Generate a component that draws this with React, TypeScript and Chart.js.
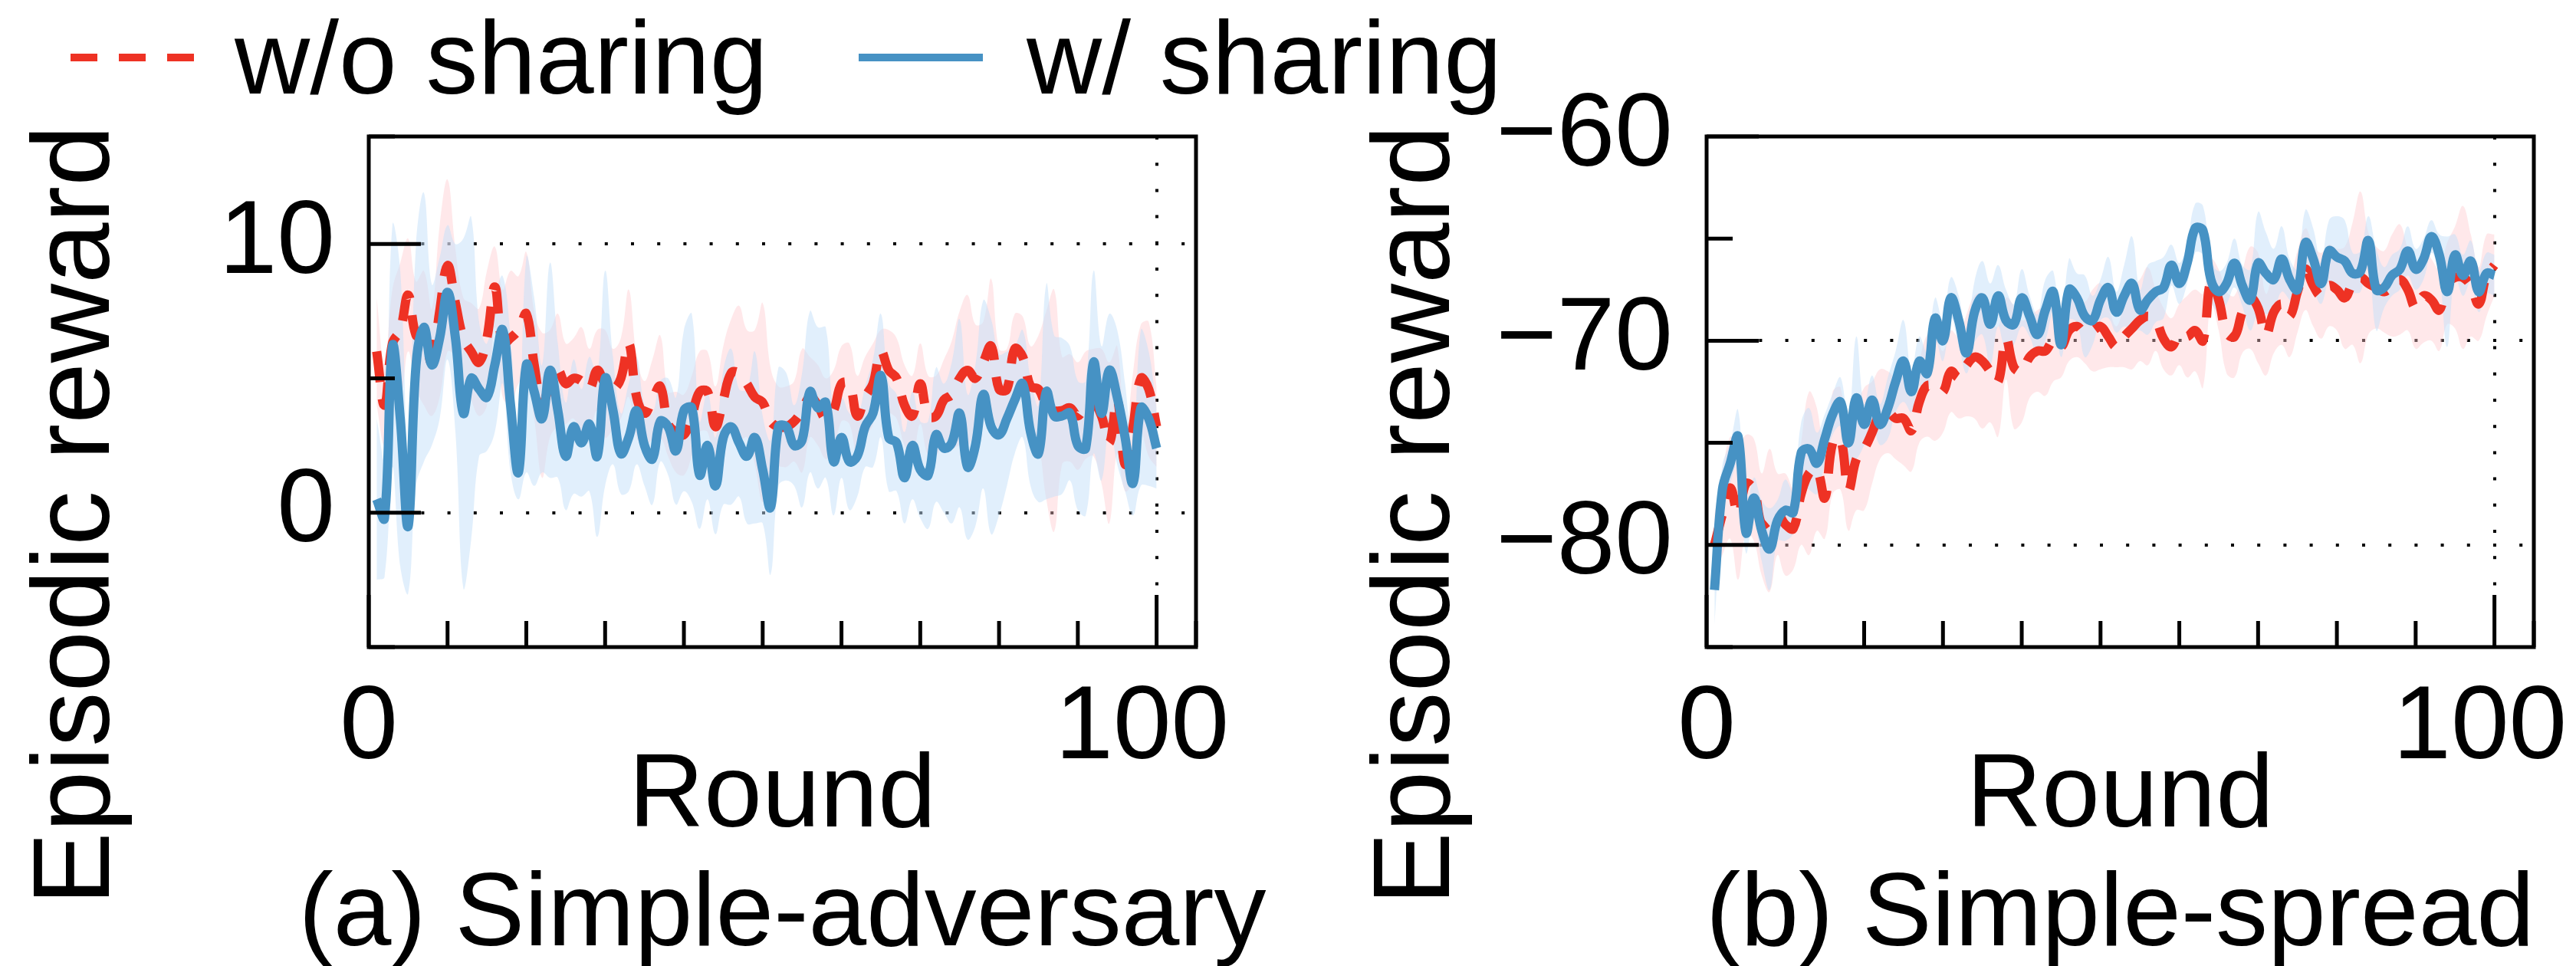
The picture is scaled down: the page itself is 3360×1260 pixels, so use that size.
import React, { useEffect, useRef } from 'react';
import { Chart, registerables } from 'chart.js';

Chart.register(...registerables);

// ---------- canvas / typography ----------
const W = 3360;
const H = 1260;
const FONT_FAMILY = '"Liberation Sans", Arial, Helvetica, sans-serif';
const FS = 136;
const FS_YTITLE = 143;

const RED = '#EE3224';
const BLUE = '#4692C4';
const RED_FILL = 'rgba(255, 200, 206, 0.42)';
const BLUE_FILL = 'rgba(196, 223, 250, 0.5)';

// ---------- data ----------
const rounds = Array.from({ length: 100 }, (_, i) => i + 1);

// (a) Simple-adversary
const advRed = [
  6.0, 4.0, 6.3, 6.8, 8.1, 6.6, 6.5, 5.6, 7.5, 9.2,
  7.8, 6.5, 6.0, 5.6, 6.5, 8.4, 6.3, 6.5, 6.8, 7.4,
  5.5, 4.0, 4.8, 5.3, 4.8, 5.0, 4.9, 4.6, 5.3, 4.8,
  4.6, 5.0, 6.3, 4.3, 3.7, 4.2, 4.7, 3.3, 3.0, 2.9,
  3.6, 4.5, 4.5, 3.2, 4.2, 5.2, 5.2, 4.8, 4.3, 4.1,
  3.4, 3.2, 3.2, 3.4, 3.8, 4.3, 4.0, 3.5, 3.8, 4.8,
  4.8, 3.6, 4.3, 4.8, 6.0, 5.3, 5.0, 4.0, 3.6, 4.8,
  3.6, 3.6, 4.2, 4.4, 5.0, 5.3, 5.0, 5.6, 6.2, 4.6,
  4.6, 6.1, 5.8, 4.7, 4.6, 4.0, 3.8, 3.8, 3.9, 3.6,
  4.0, 4.1, 3.6, 2.6, 4.2, 1.8, 3.2, 5.0, 4.6, 3.2,
];
const advRedStd = [
  2.0, 1.5, 2.0, 2.5, 2.1, 2.0, 2.5, 2.0, 3.2, 3.2,
  2.0, 1.5, 1.8, 2.0, 2.5, 1.5, 2.0, 2.5, 2.0, 2.3,
  2.0, 2.7, 2.0, 2.1, 1.5, 1.5, 2.0, 1.5, 1.5, 2.0,
  1.5, 1.5, 2.0, 1.5, 1.2, 1.5, 1.9, 1.2, 1.5, 1.5,
  1.5, 1.5, 1.5, 1.5, 2.0, 2.0, 2.5, 2.0, 2.5, 3.7,
  2.0, 1.5, 1.5, 1.5, 2.3, 1.5, 1.5, 1.5, 1.5, 1.4,
  1.5, 1.5, 1.5, 1.5, 0.8, 1.5, 1.5, 1.5, 1.5, 1.5,
  1.5, 1.5, 1.5, 2.0, 2.5, 2.8, 2.0, 1.5, 2.5, 1.5,
  1.5, 1.3, 1.5, 1.5, 2.0, 3.5, 4.5, 2.0, 2.0, 2.0,
  2.0, 2.0, 2.5, 3.0, 2.0, 1.0, 2.0, 2.0, 2.5, 1.5,
];
const advBlue = [
  0.5, -0.2, 6.2, 3.5, -0.5, 5.5, 6.9, 5.5, 6.5, 8.2,
  6.5, 3.7, 5.0, 4.6, 4.3, 5.5, 6.8, 4.0, 1.5, 5.5,
  4.5, 3.5, 5.3, 3.8, 2.1, 3.2, 2.6, 3.3, 2.1, 5.0,
  3.8, 2.2, 2.8, 3.8, 2.5, 2.0, 3.4, 3.2, 2.3, 3.8,
  3.9, 1.4, 2.5, 1.0, 2.8, 3.2, 2.6, 2.1, 2.8, 1.6,
  0.2, 3.2, 3.2, 2.5, 2.7, 4.5, 3.9, 4.1, 1.9, 2.8,
  1.9, 2.1, 3.2, 3.7, 5.1, 2.8, 2.6, 1.3, 2.5, 1.6,
  1.4, 2.9, 2.4, 2.6, 3.7, 1.7, 2.5, 4.4, 3.2, 2.9,
  3.5, 4.2, 4.8, 3.0, 2.2, 4.5, 3.6, 3.6, 3.7, 2.5,
  2.4, 5.6, 3.7, 5.3, 4.3, 2.8, 1.1, 3.9, 3.5, 2.4,
];
const advBlueStd = [
  3.0, 2.2, 4.5, 5.5, 2.5, 4.5, 5.0, 3.0, 3.0, 2.5,
  3.5, 6.5, 6.0, 2.5, 2.0, 2.5, 2.0, 2.5, 1.0, 4.0,
  3.5, 2.0, 4.0, 2.5, 2.0, 2.5, 2.0, 2.5, 3.0, 4.0,
  2.0, 1.5, 2.0, 2.0, 1.5, 1.7, 1.5, 1.8, 2.0, 3.0,
  3.5, 2.0, 2.0, 1.8, 2.5, 2.9, 2.0, 2.5, 3.2, 2.0,
  2.5, 2.2, 2.0, 1.5, 2.5, 3.0, 3.0, 2.8, 2.0, 1.5,
  1.8, 1.5, 1.5, 2.0, 2.3, 2.0, 1.8, 1.7, 2.0, 1.8,
  2.0, 2.5, 2.4, 3.0, 3.5, 2.7, 3.0, 3.5, 4.0, 3.0,
  2.5, 2.0, 2.0, 2.0, 1.8, 4.0, 3.0, 2.9, 2.5, 2.4,
  2.5, 3.4, 2.5, 2.1, 2.5, 2.0, 1.2, 2.9, 2.5, 1.5,
];

// (b) Simple-spread
const sprRed = [
  -80.0, -78.5, -77.2, -78.5, -77.0, -77.3, -79.0, -78.8, -78.5, -79.0,
  -79.2, -77.5, -76.5, -76.3, -77.7, -75.0, -74.8, -77.3, -75.8, -75.3,
  -74.5, -73.6, -73.5, -73.8, -73.8, -74.4, -73.0, -72.2, -72.3, -72.5,
  -71.5, -71.8, -71.2, -70.8, -71.0, -71.5, -72.0, -69.9, -71.3, -71.5,
  -70.8, -70.5, -70.5, -70.0, -70.3, -69.5, -69.3, -69.6, -69.5, -69.3,
  -69.8, -70.3, -69.8, -69.4, -69.0, -68.8, -69.0, -69.9, -70.3, -69.7,
  -69.8, -69.5, -70.0, -67.1, -68.0, -69.6, -69.8, -68.6, -67.9, -68.4,
  -69.7, -68.6, -68.2, -68.8, -67.6, -66.5, -67.3, -67.8, -67.3, -67.5,
  -67.9, -67.2, -66.9, -67.2, -67.4, -67.6, -67.3, -67.0, -67.5, -68.4,
  -67.8, -68.0, -68.5, -67.2, -66.9, -66.9, -67.3, -68.2, -66.8, -66.3,
];
const sprRedStd = [
  1.5, 2.0, 2.5, 3.2, 2.4, 2.5, 2.5, 3.5, 2.0, 2.5,
  2.0, 2.5, 4.0, 3.0, 2.0, 2.5, 2.5, 2.0, 2.5, 3.0,
  2.5, 2.2, 2.0, 2.0, 2.3, 2.0, 2.0, 2.5, 2.6, 2.0,
  2.0, 2.0, 2.5, 3.0, 3.3, 2.5, 2.7, 2.0, 3.0, 2.5,
  2.0, 2.0, 2.2, 2.0, 1.5, 1.5, 1.5, 1.5, 2.0, 2.1,
  1.5, 1.0, 1.5, 2.0, 2.0, 2.4, 1.5, 1.5, 1.4, 1.5,
  2.0, 2.0, 2.3, 1.1, 1.5, 2.0, 2.0, 2.0, 2.5, 2.7,
  2.0, 2.0, 2.0, 2.0, 2.0, 2.0, 2.0, 2.1, 2.0, 2.0,
  2.5, 3.0, 4.2, 2.5, 2.0, 2.0, 2.5, 2.7, 2.0, 2.0,
  2.3, 2.0, 2.0, 2.0, 2.5, 3.5, 2.5, 1.8, 2.0, 1.5,
];
const sprBlue = [
  -82.2, -77.3, -76.0, -74.7, -79.4, -77.7, -79.3, -80.2, -78.8, -78.3,
  -78.4, -75.5, -75.3, -76.0, -74.8, -73.6, -73.0, -75.0, -72.8, -74.1,
  -72.9, -74.1, -73.3, -72.0, -71.0, -72.5, -71.0, -71.6, -68.9, -70.0,
  -67.9, -69.0, -70.6, -68.6, -67.9, -69.2, -67.8, -69.0, -69.2, -67.9,
  -68.8, -69.7, -68.5, -67.6, -70.2, -67.5, -67.9, -68.8, -69.0, -68.0,
  -67.4, -68.6, -67.8, -67.2, -68.5, -68.0, -67.6, -67.4, -66.3, -67.2,
  -66.2, -64.5, -64.6, -67.0, -67.6, -67.2, -66.2, -67.3, -68.0, -66.2,
  -66.7, -67.0, -66.0, -67.0, -67.5, -65.2, -66.0, -67.2, -65.6, -65.9,
  -66.1, -66.7, -66.6, -65.1, -67.5, -67.4, -66.8, -66.5, -65.6, -66.5,
  -66.0, -64.9, -65.8, -67.6, -65.8, -66.8, -66.1, -67.6, -66.7, -66.8,
];
const sprBlueStd = [
  1.7, 1.2, 1.0, 1.3, 1.0, 1.0, 1.5, 2.0, 1.0, 1.5,
  1.0, 1.5, 2.0, 1.5, 1.2, 1.0, 1.2, 1.0, 3.0, 1.0,
  1.2, 1.0, 1.5, 1.5, 2.0, 1.0, 1.2, 1.0, 1.0, 1.0,
  1.0, 1.2, 1.0, 1.5, 1.8, 2.0, 1.5, 1.5, 1.0, 1.4,
  1.0, 1.0, 1.5, 1.0, 0.6, 1.5, 1.2, 2.0, 1.2, 1.0,
  1.5, 1.0, 1.5, 2.3, 1.0, 1.7, 1.5, 1.5, 1.0, 1.0,
  1.0, 1.2, 1.2, 1.0, 1.0, 1.0, 1.2, 1.0, 1.5, 2.5,
  2.0, 1.5, 1.6, 1.0, 1.0, 1.6, 1.5, 1.0, 1.5, 2.0,
  2.0, 1.0, 1.0, 1.2, 2.0, 1.0, 1.0, 1.0, 1.2, 1.0,
  1.0, 0.8, 1.0, 2.7, 1.0, 1.0, 1.0, 1.0, 1.0, 1.0,
];

// ---------- tick labels / texts ----------
const xTickValues = [0, 100];
const xTickLabels = ['0', '100 '];
const advYTickValues = [0, 10];
const advYTickLabels = ['0', '10'];
const sprYTickValues = [-60, -70, -80];
const sprYTickLabels = ['\u221260', '\u221270', '\u221280'];
const seriesNames = ['w/o sharing', 'w/ sharing'];
const X_TITLE = 'Round';
const Y_TITLE = 'Episodic reward';
const captions = ['(a) Simple-adversary', '(b) Simple-spread'];

// ---------- layout ----------
const PLOT_TOP = 178;
const PLOT_BOTTOM = 844;
const Y_AXIS_W = 300;
const LINE_W = 12;
const DASH = [40, 22];

type Panel = {
  red: number[]; redStd: number[]; blue: number[]; blueStd: number[];
  yMin: number; yMax: number;
  yTickValues: number[]; yTickLabels: string[]; gridY: number[];
  left: number; right: number; yTitleX: number; caption: string; legend: boolean;
};

const panels: Panel[] = [
  {
    red: advRed, redStd: advRedStd, blue: advBlue, blueStd: advBlueStd,
    yMin: -5, yMax: 14, yTickValues: advYTickValues, yTickLabels: advYTickLabels, gridY: [0, 10],
    left: 481, right: 1560, yTitleX: 142, caption: captions[0], legend: true,
  },
  {
    red: sprRed, redStd: sprRedStd, blue: sprBlue, blueStd: sprBlueStd,
    yMin: -85, yMax: -60, yTickValues: sprYTickValues, yTickLabels: sprYTickLabels, gridY: [-70, -80],
    left: 2226, right: 3305, yTitleX: 1890, caption: captions[1], legend: false,
  },
];

const font = (size: number) => `${size}px ${FONT_FAMILY}`;

// ticks inside the frame + frame border
const frameTicksPlugin = {
  id: 'frameTicks',
  afterDatasetsDraw(chart: any) {
    const { ctx, chartArea: a, scales } = chart;
    const xs = scales.x;
    const ys = scales.y;
    ctx.save();
    ctx.strokeStyle = '#000';
    ctx.lineCap = 'butt';
    ctx.lineWidth = 5;
    for (const t of xs.ticks) {
      const px = xs.getPixelForValue(t.value);
      const len = t.label ? 68 : 34;
      ctx.beginPath();
      ctx.moveTo(px, a.bottom);
      ctx.lineTo(px, a.bottom - len);
      ctx.stroke();
    }
    for (const t of ys.ticks) {
      const py = ys.getPixelForValue(t.value);
      const len = t.label ? 68 : 34;
      ctx.beginPath();
      ctx.moveTo(a.left, py);
      ctx.lineTo(a.left + len, py);
      ctx.stroke();
    }
    ctx.strokeRect(a.left, a.top, a.right - a.left, a.bottom - a.top);
    ctx.restore();
  },
};

function makeTextPlugin(p: Panel) {
  return {
    id: 'panelText',
    afterDraw(chart: any) {
      const { ctx, chartArea: a } = chart;
      ctx.save();
      ctx.fillStyle = '#000';
      ctx.textBaseline = 'alphabetic';
      // y axis title
      ctx.save();
      ctx.font = font(FS_YTITLE);
      ctx.translate(p.yTitleX, 672);
      ctx.rotate(-Math.PI / 2);
      ctx.textAlign = 'center';
      ctx.fillText(Y_TITLE, 0, 0);
      ctx.restore();
      // caption
      ctx.font = font(FS);
      ctx.textAlign = 'center';
      ctx.fillText(p.caption, (a.left + a.right) / 2, 1233);
      // legend
      if (p.legend) {
        ctx.lineWidth = 10;
        ctx.lineCap = 'butt';
        ctx.strokeStyle = RED;
        ctx.setLineDash([35, 28]);
        ctx.beginPath();
        ctx.moveTo(92, 75);
        ctx.lineTo(255, 75);
        ctx.stroke();
        ctx.setLineDash([]);
        ctx.strokeStyle = BLUE;
        ctx.beginPath();
        ctx.moveTo(1120, 75);
        ctx.lineTo(1282, 75);
        ctx.stroke();
        ctx.textAlign = 'left';
        ctx.fillText(seriesNames[0], 306, 122);
        ctx.fillText(seriesNames[1], 1339, 122);
      }
      ctx.restore();
    },
  };
}

function buildConfig(p: Panel): any {
  const pts = (vals: number[]) => vals.map((v, i) => ({ x: rounds[i], y: v }));
  const band = (m: number[], s: number[], sign: number) =>
    m.map((v, i) => ({ x: rounds[i], y: v + sign * s[i] }));
  const common = { pointRadius: 0, tension: 0.4 };
  const datasets = [
    { ...common, label: seriesNames[1], data: pts(p.blue), borderColor: BLUE, borderWidth: LINE_W, fill: false },
    { ...common, label: seriesNames[0], data: pts(p.red), borderColor: RED, borderWidth: LINE_W, borderDash: DASH, fill: false },
    { ...common, label: 'blue+', data: band(p.blue, p.blueStd, 1), borderWidth: 0, borderColor: 'rgba(0,0,0,0)', backgroundColor: BLUE_FILL, fill: '+1' },
    { ...common, label: 'blue-', data: band(p.blue, p.blueStd, -1), borderWidth: 0, borderColor: 'rgba(0,0,0,0)', fill: false },
    { ...common, label: 'red+', data: band(p.red, p.redStd, 1), borderWidth: 0, borderColor: 'rgba(0,0,0,0)', backgroundColor: RED_FILL, fill: '+1' },
    { ...common, label: 'red-', data: band(p.red, p.redStd, -1), borderWidth: 0, borderColor: 'rgba(0,0,0,0)', fill: false },
  ];
  const tickFont = { family: FONT_FAMILY, size: FS };
  return {
    type: 'line',
    data: { datasets },
    options: {
      responsive: false,
      maintainAspectRatio: false,
      animation: false,
      devicePixelRatio: 1,
      events: [],
      layout: { padding: { left: p.left - Y_AXIS_W, right: W - p.right, top: PLOT_TOP, bottom: 0 } },
      plugins: { legend: { display: false }, tooltip: { enabled: false }, title: { display: false } },
      scales: {
        x: {
          type: 'linear', min: 0, max: 105, bounds: 'data',
          afterFit: (s: any) => { s.height = H - PLOT_BOTTOM; s.paddingLeft = 0; s.paddingRight = 0; },
          ticks: {
            stepSize: 10, includeBounds: false, autoSkip: false, maxRotation: 0, minRotation: 0,
            padding: 26, color: '#000', font: tickFont,
            callback: (v: number) => { const i = xTickValues.indexOf(v); return i >= 0 ? xTickLabels[i] : ''; },
          },
          grid: {
            drawTicks: false, lineWidth: 4,
            color: (c: any) => (c.tick && c.tick.value === 100 ? '#000' : 'rgba(0,0,0,0)'),
          },
          border: { display: false, dash: [4, 30.2] },
          title: { display: true, text: X_TITLE, color: '#000', font: { family: FONT_FAMILY, size: FS }, padding: { top: 0, bottom: 138 } },
        },
        y: {
          type: 'linear', min: p.yMin, max: p.yMax, bounds: 'data',
          afterFit: (s: any) => { s.width = Y_AXIS_W; s.paddingTop = 0; s.paddingBottom = 0; },
          ticks: {
            stepSize: 5, includeBounds: false, autoSkip: false, padding: 44, color: '#000', font: tickFont,
            callback: (v: number) => { const i = p.yTickValues.indexOf(v); return i >= 0 ? p.yTickLabels[i] : ''; },
          },
          grid: {
            drawTicks: false, lineWidth: 4,
            color: (c: any) => (c.tick && p.gridY.includes(c.tick.value) ? '#000' : 'rgba(0,0,0,0)'),
          },
          border: { display: false, dash: [4, 30.2] },
        },
      },
    },
    plugins: [frameTicksPlugin, makeTextPlugin(p)],
  };
}

export default function App() {
  const leftRef = useRef<HTMLCanvasElement>(null);
  const rightRef = useRef<HTMLCanvasElement>(null);
  useEffect(() => {
    const c1 = new Chart(leftRef.current as HTMLCanvasElement, buildConfig(panels[0]));
    const c2 = new Chart(rightRef.current as HTMLCanvasElement, buildConfig(panels[1]));
    return () => { c1.destroy(); c2.destroy(); };
  }, []);
  const cs: React.CSSProperties = { position: 'absolute', left: 0, top: 0, width: W, height: H };
  return (
    <div style={{ position: 'absolute', left: 0, top: 0, width: W, height: H, background: '#fff' }}>
      <canvas ref={leftRef} width={W} height={H} style={cs} />
      <canvas ref={rightRef} width={W} height={H} style={cs} />
    </div>
  );
}
